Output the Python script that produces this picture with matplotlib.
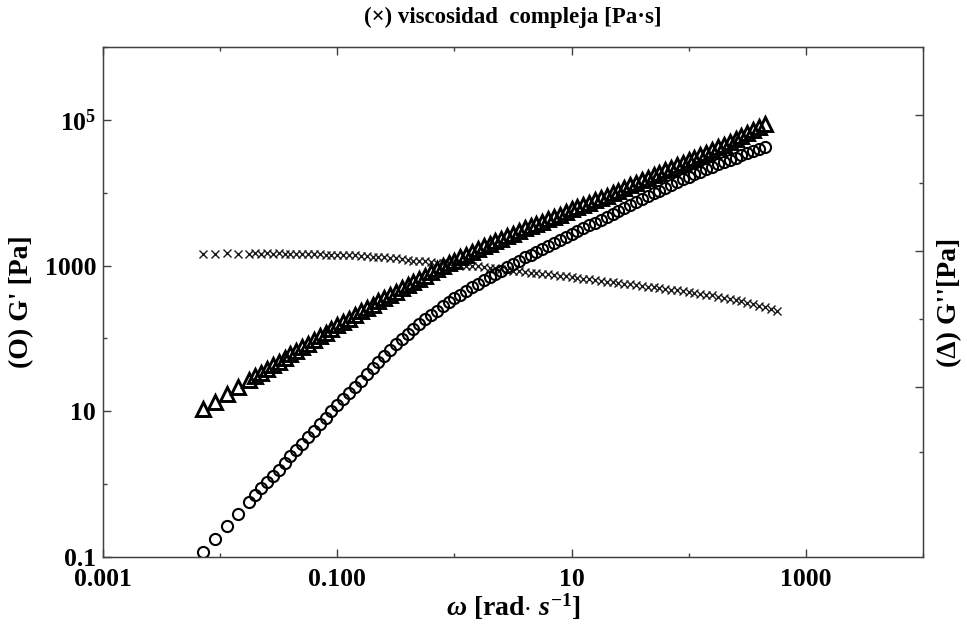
import numpy as np
import matplotlib
matplotlib.use("Agg")
from matplotlib import pyplot as plt
from matplotlib.ticker import FixedLocator, FixedFormatter, NullFormatter

plt.rcParams['font.family'] = ['Liberation Serif', 'DejaVu Serif']
plt.rcParams['font.weight'] = 'bold'
plt.rcParams['axes.labelweight'] = 'bold'
plt.rcParams['mathtext.fontset'] = 'custom'
plt.rcParams['mathtext.rm'] = 'Liberation Serif:bold'
plt.rcParams['mathtext.it'] = 'Liberation Serif:italic:bold'
plt.rcParams['mathtext.bf'] = 'Liberation Serif:bold'

# angular frequency [rad/s]
w = [0.00716, 0.00902, 0.0114, 0.0143,
     0.0178, 0.0200, 0.0224, 0.0251, 0.0282, 0.0316, 0.0355, 0.0398, 0.0447, 0.0501,
     0.0562, 0.0631, 0.0708, 0.0794, 0.0891,
     0.100, 0.112, 0.126, 0.141, 0.158, 0.178, 0.200, 0.224, 0.251, 0.282,
     0.316, 0.355, 0.398, 0.447, 0.501, 0.562, 0.631, 0.708, 0.794, 0.891,
     1.00, 1.12, 1.26, 1.41, 1.58, 1.78, 2.00, 2.24, 2.51, 2.82,
     3.16, 3.55, 3.98, 4.47, 5.01, 5.62, 6.31, 7.08, 7.94, 8.91,
     10.0, 11.2, 12.6, 14.1, 15.8, 17.8, 20.0, 22.4, 25.1, 28.2,
     31.6, 35.5, 39.8, 44.7, 50.1, 56.2, 63.1, 70.8, 79.4, 89.1,
     100, 112, 126, 141, 158, 178, 200, 224, 251, 282, 316, 355, 398, 447]

# storage modulus G' [Pa]
g_storage = [0.118, 0.174, 0.263, 0.389,
             0.575, 0.708, 0.871, 1.07, 1.29, 1.58, 1.95, 2.40, 2.95, 3.55,
             4.37, 5.37, 6.61, 8.13, 10.0,
             12.0, 14.8, 17.8, 21.4, 26.3, 32.4, 39.8, 47.9, 57.5, 69.2,
             83.2, 97.7, 115, 135, 158, 182, 209, 240, 275, 316,
             355, 398, 447, 501, 562, 631, 692, 776, 851, 955,
             1050, 1150, 1290, 1410, 1550, 1700, 1860, 2040, 2240, 2450,
             2690, 2950, 3240, 3550, 3890, 4270, 4680, 5130, 5620, 6170,
             6760, 7410, 8130, 8910, 9770, 10700, 11700, 12900, 14100, 15500,
             16600, 18200, 19500, 20900, 22400, 24500, 26300, 28200, 30200, 32400,
             34700, 37200, 39800, 42700]

# loss modulus G'' [Pa]
g_loss = [10.7, 13.5, 17.0, 21.4,
          26.9, 30.2, 33.9, 38.0, 42.7, 47.9, 53.7, 60.3, 67.6, 75.9,
          85.1, 95.5, 107, 120, 135,
          151, 170, 186, 209, 234, 263, 288, 324, 355, 398,
          437, 490, 537, 603, 661, 724, 813, 891, 977, 1070,
          1170, 1290, 1410, 1550, 1700, 1860, 2000, 2190, 2340, 2570,
          2750, 2950, 3240, 3470, 3720, 3980, 4370, 4680, 5010, 5370,
          5890, 6310, 6760, 7240, 7940, 8510, 9120, 10000, 10700, 11500,
          12600, 13500, 14800, 15800, 17400, 18600, 20400, 21900, 24000, 25700,
          28200, 30200, 33100, 35500, 38900, 42700, 45700, 50100, 55000, 60300,
          66100, 72400, 79400, 87100]

# complex viscosity [Pa s], measured two points further
w_eta = w + [501, 562]
eta = [1450, 1450, 1480, 1450,
       1450, 1480, 1450, 1480, 1450, 1480, 1450, 1450, 1450, 1450,
       1450, 1450, 1450, 1410, 1410,
       1410, 1410, 1380, 1380, 1350, 1350, 1320, 1320, 1290, 1260,
       1260, 1230, 1200, 1170, 1170, 1150, 1120, 1100, 1070, 1070,
       1050, 1020, 1000, 977, 977, 955, 933, 912, 891, 871,
       851, 832, 813, 794, 794, 776, 759, 741, 724, 708,
       692, 676, 661, 646, 631, 617, 603, 589, 575, 562,
       550, 537, 525, 513, 501, 490, 479, 468, 457, 447,
       427, 417, 407, 398, 389, 372, 363, 347, 339, 324,
       309, 295, 282, 269, 257, 240]

x_major = [1e-3, 1e-1, 1e1, 1e3]
x_major_labels = ['0.001', '0.100', '10', '1000']
x_minor = [1e-2, 1e0, 1e2, 1e4]
y_major = [0.1, 10, 1000, 1e5]
y_major_labels = ['0.1', '10', '1000', '10$^5$']
y_minor = [1, 100, 1e4, 1e6]

frame = '#404040'

fig = plt.figure(figsize=(9.67, 6.32), dpi=100)
ax = fig.add_axes([0.1065, 0.1187, 0.848, 0.807])

ax.plot(w_eta, eta, linestyle='none', marker='x', ms=6, mew=1.0, color='#1a1a1a')
ax.plot(w, g_storage, linestyle='none', marker='o', ms=8, mew=1.5,
        mfc='none', mec='black')
ax.plot(w, g_loss, linestyle='none', marker='^', ms=9.5, mew=2.1,
        mfc='none', mec='black')

ax.set_xscale('log')
ax.set_yscale('log')
ax.set_xlim(1e-3, 1e4)
ax.set_ylim(0.1, 1e6)

ax.xaxis.set_major_locator(FixedLocator(x_major))
ax.xaxis.set_major_formatter(FixedFormatter(x_major_labels))
ax.xaxis.set_minor_locator(FixedLocator(x_minor))
ax.xaxis.set_minor_formatter(NullFormatter())
ax.yaxis.set_major_locator(FixedLocator(y_major))
ax.yaxis.set_major_formatter(FixedFormatter(y_major_labels))
ax.yaxis.set_minor_locator(FixedLocator(y_minor))
ax.yaxis.set_minor_formatter(NullFormatter())

ax.tick_params(which='both', direction='in', top=True, right=False,
               color=frame, width=1.0, labelsize=18.5)
ax.tick_params(axis='x', pad=8)
ax.tick_params(axis='y', pad=5)
ax.tick_params(which='major', length=5.5)
ax.tick_params(which='minor', length=3)
for sp in ax.spines.values():
    sp.set_color(frame)
    sp.set_linewidth(1.0)

# right-hand axis for G''
ax2 = ax.twinx()
ax2.set_ylim(0, 1)
ax2.yaxis.set_major_locator(FixedLocator([0.3333, 0.6, 0.8667]))
ax2.yaxis.set_minor_locator(FixedLocator([0.2059, 0.4667, 0.7333]))
ax2.yaxis.set_major_formatter(NullFormatter())
ax2.yaxis.set_minor_formatter(NullFormatter())
ax2.tick_params(which='both', direction='in', color=frame, width=1.0)
ax2.tick_params(which='major', length=5.5)
ax2.tick_params(which='minor', length=3)
for sp in ax2.spines.values():
    sp.set_color(frame)

ax.set_xlabel(r'$\omega$ [rad$\cdot$ $s^{\mathbf{-1}}$]', fontsize=20,
              fontweight='bold', va='center')
ax.xaxis.set_label_coords(0.5, -0.098)
ax.set_ylabel("(O) G' [Pa]", fontsize=20, fontweight='bold', va='center', ha='center')
ax.yaxis.set_label_coords(-0.099, 0.5)
ax2.set_ylabel("(\u0394) G''[Pa]", fontsize=20, fontweight='bold', va='center', ha='center')
ax2.yaxis.set_label_coords(1.033, 0.5)

fig.text(0.5305, 0.973, "(\u00d7) viscosidad  compleja [Pa\u00b7s]",
         ha='center', va='center', fontsize=16.5)

fig.savefig('out.png', dpi=100)
